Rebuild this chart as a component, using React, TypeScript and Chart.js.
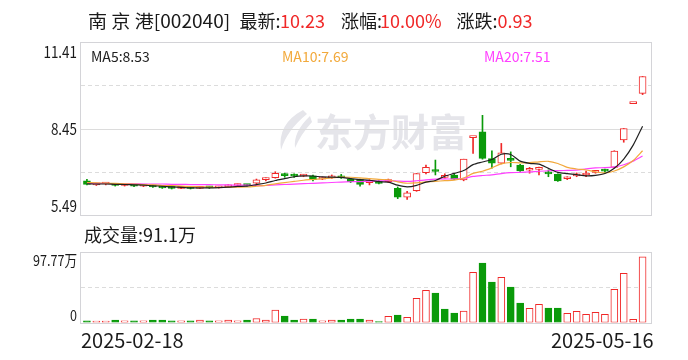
import React, { useEffect, useRef } from "react";
import { Chart, registerables } from "chart.js";
Chart.register(...registerables);

// ---------- data ----------
const dates = [
  "2025-02-18","2025-02-19","2025-02-20","2025-02-21","2025-02-24","2025-02-25","2025-02-26","2025-02-27","2025-02-28",
  "2025-03-03","2025-03-04","2025-03-05","2025-03-06","2025-03-07","2025-03-10","2025-03-11","2025-03-12","2025-03-13","2025-03-14",
  "2025-03-17","2025-03-18","2025-03-19","2025-03-20","2025-03-21","2025-03-24","2025-03-25","2025-03-26","2025-03-27","2025-03-28","2025-03-31",
  "2025-04-01","2025-04-02","2025-04-03","2025-04-07","2025-04-08","2025-04-09","2025-04-10","2025-04-11","2025-04-14","2025-04-15",
  "2025-04-16","2025-04-17","2025-04-18","2025-04-21","2025-04-22","2025-04-23","2025-04-24","2025-04-25","2025-04-28","2025-04-29","2025-04-30",
  "2025-05-06","2025-05-07","2025-05-08","2025-05-09","2025-05-12","2025-05-13","2025-05-14","2025-05-15","2025-05-16",
];
const opens = [
  6.66,6.52,6.55,6.56,6.50,6.52,6.48,6.50,6.45,6.42,
  6.40,6.42,6.40,6.45,6.42,6.45,6.50,6.52,6.58,6.70,
  6.77,6.86,6.83,6.82,6.83,6.72,6.76,6.82,6.71,6.70,
  6.60,6.65,6.63,6.40,6.10,6.32,6.94,7.00,6.78,6.86,
  6.69,8.14,8.34,7.42,7.26,7.40,7.20,7.02,7.05,6.94,
  6.88,6.73,6.83,6.86,6.95,7.01,7.12,8.06,9.30,9.65,
];
const highs = [
  6.71,6.58,6.58,6.57,6.55,6.53,6.53,6.51,6.47,6.44,
  6.45,6.43,6.47,6.46,6.47,6.53,6.55,6.54,6.72,6.76,
  6.97,6.92,6.90,6.88,6.86,6.79,6.86,6.88,6.74,6.72,
  6.70,6.68,6.72,6.45,6.30,6.91,7.20,7.37,6.90,6.90,
  7.40,8.14,8.90,7.69,7.94,7.65,7.22,7.12,7.13,7.03,
  6.90,6.80,6.93,6.99,7.01,7.06,7.69,8.45,9.30,10.23,
];
const lows = [
  6.52,6.50,6.52,6.48,6.48,6.46,6.46,6.43,6.40,6.38,
  6.39,6.38,6.39,6.40,6.41,6.44,6.48,6.48,6.55,6.66,
  6.75,6.78,6.78,6.80,6.66,6.70,6.74,6.74,6.60,6.48,
  6.52,6.55,6.60,6.05,6.02,6.30,6.90,6.86,6.75,6.70,
  6.66,7.60,7.40,7.09,7.24,7.14,6.98,6.92,6.86,6.80,
  6.64,6.70,6.80,6.80,6.92,6.92,7.10,7.98,9.30,9.61,
];
const closes = [
  6.54,6.55,6.56,6.50,6.52,6.48,6.50,6.45,6.42,6.40,
  6.42,6.40,6.45,6.42,6.45,6.50,6.52,6.50,6.69,6.72,
  6.92,6.84,6.82,6.84,6.70,6.76,6.82,6.76,6.63,6.54,
  6.65,6.57,6.69,6.10,6.25,6.91,7.12,6.98,6.83,6.72,
  7.40,8.14,7.43,7.26,7.62,7.36,7.00,7.05,7.12,6.90,
  6.66,6.79,6.88,6.92,6.98,6.99,7.68,8.45,9.30,10.23,
];
// volume, unit: 万手
const volumes = [
  2.3,1.8,1.8,3.2,2.3,2.3,2.3,3.2,3.2,2.3,
  2.3,2.3,3.2,2.3,2.3,3.2,2.3,3.2,5.5,3.2,
  17.1,8.8,3.2,4.6,4.6,2.3,3.2,3.2,4.6,4.8,
  3.5,1.2,8.6,10.4,7.2,33.5,44.6,40.9,18.7,13.2,
  15.9,69.6,82.5,56.2,62.7,49.2,27.0,19.7,25.2,20.1,
  20.1,12.7,15.5,11.4,14.1,11.4,46.0,68.2,4.4,91.1,
];
const ma5 = [
  6.56,6.55,6.55,6.54,6.534,6.522,6.512,6.49,6.474,6.45,
  6.438,6.418,6.418,6.418,6.428,6.444,6.468,6.478,6.532,6.586,
  6.67,6.734,6.798,6.828,6.824,6.792,6.788,6.776,6.734,6.702,
  6.68,6.63,6.616,6.51,6.452,6.504,6.614,6.672,6.818,6.912,
  7.01,7.214,7.304,7.39,7.57,7.562,7.334,7.258,7.23,7.086,
  6.946,6.904,6.87,6.83,6.846,6.912,7.09,7.404,7.88,8.53,
];
const ma10 = [
  6.60,6.59,6.58,6.57,6.56,6.55,6.53,6.52,6.50,6.492,
  6.48,6.465,6.454,6.446,6.439,6.441,6.443,6.448,6.475,6.507,
  6.557,6.601,6.638,6.68,6.705,6.731,6.761,6.787,6.781,6.763,
  6.736,6.709,6.696,6.622,6.577,6.592,6.622,6.644,6.664,6.682,
  6.757,6.914,6.988,7.104,7.241,7.286,7.274,7.281,7.31,7.328,
  7.254,7.119,7.064,7.03,6.966,6.929,6.997,7.137,7.355,7.688,
];
const ma20 = [
  6.57,6.57,6.57,6.56,6.56,6.56,6.55,6.55,6.55,6.54,
  6.54,6.53,6.53,6.53,6.52,6.52,6.51,6.51,6.50,6.50,
  6.519,6.533,6.546,6.563,6.572,6.586,6.602,6.618,6.628,6.635,
  6.647,6.655,6.667,6.651,6.641,6.662,6.692,6.716,6.723,6.723,
  6.747,6.812,6.842,6.863,6.909,6.939,6.948,6.963,6.987,7.005,
  7.006,7.017,7.026,7.067,7.104,7.108,7.136,7.209,7.333,7.508,
];
const priceTicks = [11.41, 8.45, 5.49];
const volMax = 97.77;
const volTickLabels = ["97.77万", "0"];
const stockName = "南 京 港[002040]";
const latest = "10.23";
const changePct = "10.00%";
const changeAmt = "0.93";
const lastVolume = "91.1万";

// ---------- styles ----------
const RED = "#f02828";
const GREEN = "#0a9a0a";
const FRAME = "#d4d4d8";
const GRID = "#dcdcdc";
const FONT = '"Noto Sans CJK SC", "Noto Sans", sans-serif';

function Txt(props: { x: number; y: number; size: number; color?: string; sx?: number; children: React.ReactNode }) {
  const { x, y, size, color = "#1a1a1a", sx = 1, children } = props;
  return (
    <span
      style={{
        position: "absolute", left: x, top: y, fontSize: size, lineHeight: 1, fontFamily: FONT,
        color, whiteSpace: "pre", transform: `scaleX(${sx})`, transformOrigin: "left top",
      }}
    >
      {children}
    </span>
  );
}

export default function App() {
  const priceRef = useRef<HTMLCanvasElement>(null);
  const volRef = useRef<HTMLCanvasElement>(null);

  useEffect(() => {
    document.body.style.margin = "0";
    const idx = closes.map((_, i) => i);
    const up = closes.map((c, i) => c >= opens[i]);
    const volUp = closes.map((c, i) => c >= (i === 0 ? opens[0] : closes[i - 1]));
    const xScale: any = { type: "linear", display: false, offset: false, min: -0.63, max: closes.length };

    const drawLabel = (ctx: CanvasRenderingContext2D, text: string, xr: number, baseline: number, size: number, sx: number) => {
      ctx.save();
      ctx.font = `${size}px ${FONT}`;
      ctx.fillStyle = "#1a1a1a";
      ctx.textAlign = "right";
      ctx.textBaseline = "alphabetic";
      ctx.translate(xr, baseline);
      ctx.scale(sx, 1);
      ctx.fillText(text, 0, 0);
      ctx.restore();
    };

    const pricePlugin = {
      id: "priceFrame",
      beforeDatasetsDraw(chart: any) {
        const { ctx, chartArea: a, scales } = chart;
        const y = scales.y;
        const lo = priceTicks[2], hi = priceTicks[0];
        const mid = (lo + hi) / 2, q = (hi - lo) / 4;
        ctx.save();
        // watermark
        ctx.fillStyle = "#e5e5ea";
        ctx.font = `bold 38px ${FONT}`;
        ctx.textBaseline = "alphabetic";
        ctx.fillText("东方财富", a.left + 234, a.top + 104);
        ctx.beginPath();
        ctx.moveTo(a.left + 222, a.top + 68);
        ctx.quadraticCurveTo(a.left + 196, a.top + 82, a.left + 200, a.top + 108);
        ctx.quadraticCurveTo(a.left + 206, a.top + 88, a.left + 226, a.top + 72);
        ctx.closePath();
        ctx.fill();
        ctx.beginPath();
        ctx.moveTo(a.left + 229, a.top + 74);
        ctx.quadraticCurveTo(a.left + 212, a.top + 90, a.left + 214, a.top + 106);
        ctx.quadraticCurveTo(a.left + 220, a.top + 92, a.left + 231, a.top + 80);
        ctx.closePath();
        ctx.fill();
        // grid
        ctx.lineWidth = 1;
        ctx.strokeStyle = GRID;
        const py = (v: number) => Math.round(y.getPixelForValue(v)) + 0.5;
        ctx.beginPath();
        ctx.moveTo(a.left, py(mid)); ctx.lineTo(a.right, py(mid));
        ctx.stroke();
        ctx.setLineDash([4, 3]);
        ctx.beginPath();
        ctx.moveTo(a.left, py(mid + q)); ctx.lineTo(a.right, py(mid + q));
        ctx.moveTo(a.left, py(mid - q)); ctx.lineTo(a.right, py(mid - q));
        ctx.stroke();
        ctx.restore();
      },
      afterDraw(chart: any) {
        const { ctx, chartArea: a, scales } = chart;
        const y = scales.y;
        ctx.save();
        ctx.strokeStyle = FRAME;
        ctx.lineWidth = 1;
        ctx.strokeRect(Math.round(a.left) - 0.5, Math.round(a.top) + 0.5, Math.round(a.right - a.left), Math.round(a.bottom - a.top));
        ctx.restore();
        drawLabel(ctx, priceTicks[0].toFixed(2), a.left - 4, y.getPixelForValue(priceTicks[0]) + 15.5, 16, 0.84);
        drawLabel(ctx, priceTicks[1].toFixed(2), a.left - 4, y.getPixelForValue(priceTicks[1]) + 6, 16, 0.84);
        drawLabel(ctx, priceTicks[2].toFixed(2), a.left - 4, y.getPixelForValue(priceTicks[2]) - 3.5, 16, 0.84);
      },
    };

    const volPlugin = {
      id: "volFrame",
      beforeDatasetsDraw(chart: any) {
        const { ctx, chartArea: a, scales } = chart;
        const yy = Math.round(scales.y.getPixelForValue(volMax / 2)) + 0.5;
        ctx.save();
        ctx.strokeStyle = GRID;
        ctx.setLineDash([4, 3]);
        ctx.beginPath();
        ctx.moveTo(a.left, yy); ctx.lineTo(a.right, yy);
        ctx.stroke();
        ctx.restore();
      },
      afterDraw(chart: any) {
        const { ctx, chartArea: a, scales } = chart;
        ctx.save();
        ctx.strokeStyle = FRAME;
        ctx.lineWidth = 1;
        ctx.strokeRect(Math.round(a.left) - 0.5, Math.round(a.top) + 0.5, Math.round(a.right - a.left), Math.round(a.bottom - a.top));
        ctx.restore();
        drawLabel(ctx, volTickLabels[0], a.left - 4, scales.y.getPixelForValue(volMax) + 14, 15, 0.84);
        drawLabel(ctx, volTickLabels[1], a.left - 4, scales.y.getPixelForValue(0) - 1.5, 15, 0.84);
      },
    };

    const line = (data: number[], color: string) => ({
      type: "line",
      data: data.map((v, i) => ({ x: i, y: v })),
      borderColor: color,
      borderWidth: 1.2,
      pointRadius: 0,
      tension: 0.25,
      order: 0,
    });

    const priceChart = new Chart(priceRef.current!, {
      type: "bar",
      data: {
        datasets: [
          line(ma5, "#202020") as any,
          line(ma10, "#f2a93b") as any,
          line(ma20, "#ff40ff") as any,
          {
            type: "bar",
            data: idx.map((i) => ({ x: i, y: [Math.min(opens[i], closes[i]), Math.max(opens[i], closes[i])] })),
            backgroundColor: idx.map((i) => (up[i] ? "#ffffff" : GREEN)),
            borderColor: idx.map((i) => (up[i] ? RED : GREEN)),
            borderWidth: 1,
            borderSkipped: false,
            barThickness: 7,
            minBarLength: 2,
            grouped: false,
            order: 1,
          },
          {
            type: "bar",
            data: idx.map((i) => ({ x: i, y: [lows[i], highs[i]] })),
            backgroundColor: idx.map((i) => (up[i] ? RED : GREEN)),
            borderWidth: 0,
            barThickness: 1,
            grouped: false,
            order: 2,
          },
        ],
      },
      options: {
        responsive: false,
        animation: false,
        events: [],
        layout: { padding: { left: 81, right: 36, top: 42, bottom: 15 } },
        plugins: { legend: { display: false }, tooltip: { enabled: false } },
        scales: {
          x: xScale,
          y: { type: "linear", display: false, min: priceTicks[2], max: priceTicks[0] },
        },
      },
      plugins: [pricePlugin],
    } as any);

    const volChart = new Chart(volRef.current!, {
      type: "bar",
      data: {
        datasets: [
          {
            data: idx.map((i) => ({ x: i, y: volumes[i] })),
            backgroundColor: idx.map((i) => (volUp[i] ? "#ffffff" : GREEN)),
            borderColor: idx.map((i) => (volUp[i] ? RED : GREEN)),
            borderWidth: 1,
            borderSkipped: false,
            barThickness: 7,
            grouped: false,
          },
        ],
      },
      options: {
        responsive: false,
        animation: false,
        events: [],
        layout: { padding: { left: 81, right: 36, top: 12, bottom: 37.5 } },
        plugins: { legend: { display: false }, tooltip: { enabled: false } },
        scales: {
          x: { ...xScale },
          y: { type: "linear", display: false, min: 0, max: volMax },
        },
      },
      plugins: [volPlugin],
    } as any);

    return () => {
      priceChart.destroy();
      volChart.destroy();
    };
  }, []);

  return (
    <div style={{ position: "absolute", left: 0, top: 0, width: 688, height: 360, background: "#fff", overflow: "hidden" }}>
      <canvas ref={priceRef} width={688} height={230} style={{ position: "absolute", left: 0, top: 0 }} />
      <canvas ref={volRef} width={688} height={120} style={{ position: "absolute", left: 0, top: 240 }} />
      <Txt x={88} y={11} size={18} sx={1.06}>{stockName}</Txt>
      <Txt x={239.5} y={11} size={18}>最新:</Txt>
      <Txt x={280} y={11} size={18} color={RED}>{latest}</Txt>
      <Txt x={341} y={11} size={18}>涨幅:</Txt>
      <Txt x={380} y={11} size={18} color={RED}>{changePct}</Txt>
      <Txt x={456.5} y={11} size={18}>涨跌:</Txt>
      <Txt x={497.5} y={11} size={18} color={RED}>{changeAmt}</Txt>
      <Txt x={91} y={49} size={14} color="#202020">{`MA5:${ma5[ma5.length - 1].toFixed(2)}`}</Txt>
      <Txt x={282} y={49} size={14} color="#f2a93b">{`MA10:${ma10[ma10.length - 1].toFixed(2)}`}</Txt>
      <Txt x={484} y={49} size={14} color="#ff40ff">{`MA20:${ma20[ma20.length - 1].toFixed(2)}`}</Txt>
      <Txt x={84} y={225} size={18}>{`成交量:${lastVolume}`}</Txt>
      <Txt x={81} y={330} size={20}>{dates[0]}</Txt>
      <Txt x={551} y={330} size={20}>{dates[dates.length - 1]}</Txt>
    </div>
  );
}
